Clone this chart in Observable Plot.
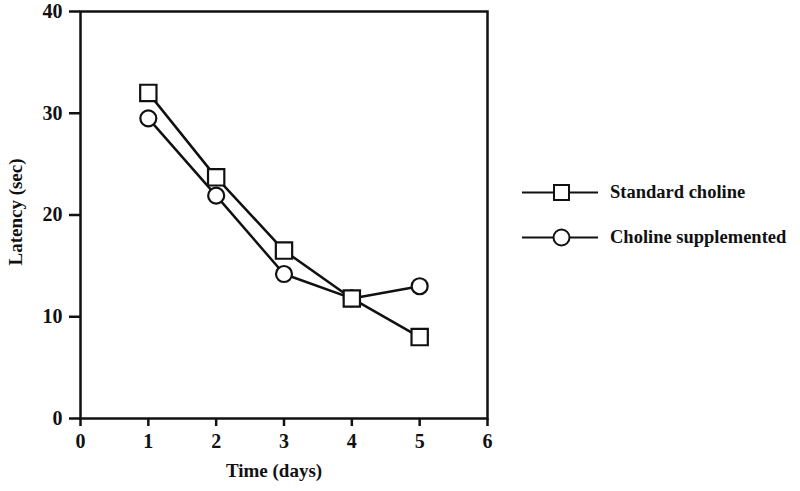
<!DOCTYPE html>
<html>
<head>
<meta charset="utf-8">
<script src="https://cdn.jsdelivr.net/npm/d3@7"></script>
<script src="https://cdn.jsdelivr.net/npm/@observablehq/plot@0.6"></script>
<style>
  html, body { margin: 0; padding: 0; background: #fff; }
  #wrap { position: relative; width: 800px; height: 491px; font-family: "Liberation Serif", "Times New Roman", serif; font-weight: bold; }
  #legend { position: absolute; left: 520px; top: 170px; }
  .row { display: flex; align-items: center; height: 45px; font-size: 18.5px; color: #111; }
  .row svg { margin-right: 10px; }
</style>
</head>
<body>
<div id="wrap">
  <div id="chart"></div>
  <div id="legend"></div>
</div>
<script>
const days = [1, 2, 3, 4, 5];
const standardCholine = [32.0, 23.7, 16.5, 11.8, 8.0];
const cholineSupplemented = [29.5, 21.9, 14.2, 11.8, 13.0];
const seriesNames = ["Standard choline", "Choline supplemented"];
const xTicks = [0, 1, 2, 3, 4, 5, 6];
const yTicks = [0, 10, 20, 30, 40];

const rows = [];
days.forEach((d, i) => {
  rows.push({day: d, latency: standardCholine[i], series: seriesNames[0]});
});
days.forEach((d, i) => {
  rows.push({day: d, latency: cholineSupplemented[i], series: seriesNames[1]});
});
const std = rows.filter(r => r.series === seriesNames[0]);
const sup = rows.filter(r => r.series === seriesNames[1]);

const chart = Plot.plot({
  width: 800,
  height: 491,
  marginLeft: 80,
  marginRight: 313,
  marginTop: 11,
  marginBottom: 73,
  style: {fontFamily: "'Liberation Serif', 'Times New Roman', serif", fontWeight: "bold", fontSize: "19px", color: "#111", background: "#fff"},
  x: {domain: [0, 6]},
  y: {domain: [0, 40]},
  marks: [
    Plot.frame({stroke: "#111", strokeWidth: 2.5}),
    Plot.axisX({ticks: xTicks, tickFormat: d3.format("d"), tickSize: 8, tickPadding: 7, strokeWidth: 2.5, label: null, fontSize: 20}),
    Plot.axisY({ticks: yTicks, tickFormat: d3.format("d"), tickSize: 11, tickPadding: 7, strokeWidth: 2.5, label: null, fontSize: 20}),
    Plot.text(["Time (days)"], {frameAnchor: "bottom", dy: 58, dx: -10, fontSize: 19, fontWeight: "bold"}),
    Plot.text(["Latency (sec)"], {frameAnchor: "left", textAnchor: "middle", dx: -65, dy: -3, rotate: -90, fontSize: 19, fontWeight: "bold"}),
    Plot.line(std, {x: "day", y: "latency", stroke: "#111", strokeWidth: 2.5}),
    Plot.line(sup, {x: "day", y: "latency", stroke: "#111", strokeWidth: 2.5}),
    Plot.dot(sup, {x: "day", y: "latency", symbol: "circle", r: 8, fill: "#fff", stroke: "#111", strokeWidth: 2.2}),
    Plot.dot(std, {x: "day", y: "latency", symbol: "square", r: 9.2, fill: "#fff", stroke: "#111", strokeWidth: 2.2})
  ]
});
d3.select(chart).selectAll("text")
  .filter(function() { return /^\d+$/.test(this.textContent.trim()); })
  .attr("font-size", 20)
  .style("font-size", "20px");
document.getElementById("chart").appendChild(chart);

const legend = document.getElementById("legend");
const symbols = ["square", "circle"];
seriesNames.forEach((name, i) => {
  const row = document.createElement("div");
  row.className = "row";
  const sym = symbols[i] === "square"
    ? '<rect x="34" y="6" width="15" height="15" fill="#fff" stroke="#111" stroke-width="2"/>'
    : '<circle cx="41.5" cy="13.5" r="8" fill="#fff" stroke="#111" stroke-width="2"/>';
  row.innerHTML = '<svg width="80" height="27"><line x1="2" x2="78" y1="13.5" y2="13.5" stroke="#111" stroke-width="2.2"/>' + sym + '</svg><span>' + name + '</span>';
  legend.appendChild(row);
});
</script>
</body>
</html>
